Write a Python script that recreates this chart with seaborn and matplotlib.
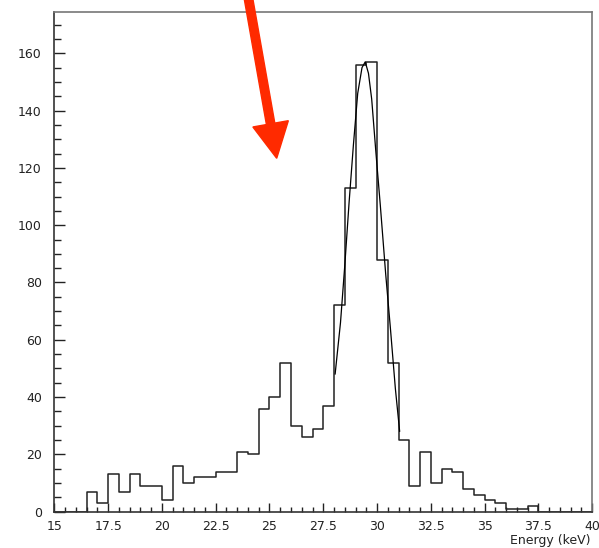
import numpy as np
import pandas as pd
import matplotlib
matplotlib.use("Agg")
import matplotlib.pyplot as plt
import seaborn as sns
from matplotlib.patches import FancyArrow
from matplotlib.ticker import MultipleLocator

# histogram: 0.5 keV bins starting at 15 keV
bin_start = 15.0
bin_width = 0.5
counts = [0, 0, 0, 7, 3, 13, 7, 13, 9, 9,
          4, 16, 10, 12, 12, 14, 14, 21, 20, 36,
          40, 52, 30, 26, 29, 37, 72, 113, 156, 157,
          88, 52, 25, 9, 21, 10, 15, 14, 8, 6,
          4, 3, 1, 1, 2, 0, 0, 0, 0, 0]

# fitted peak, points
fit_x = [28.05, 28.30, 28.50, 28.70, 28.90, 29.10, 29.30, 29.45,
         29.60, 29.75, 29.95, 30.15, 30.40, 30.62, 30.85, 31.05]
fit_y = [48, 66, 86, 108, 128, 146, 155, 157,
         153, 144, 125, 107, 83, 64, 43, 28]

x_ticks = [15, 17.5, 20, 22.5, 25, 27.5, 30, 32.5, 35, 37.5, 40]
x_tick_labels = ["15", "17.5", "20", "22.5", "25", "27.5", "30", "32.5", "35", "37.5", "40"]
y_ticks = [0, 20, 40, 60, 80, 100, 120, 140, 160]
x_label = "Energy (keV)"

sns.set_style("white")
plt.rcParams["font.family"] = ["DejaVu Sans"]

fig = plt.figure(figsize=(5.99, 5.48), dpi=100)
ax = fig.add_axes([0.0907, 0.0662, 0.898, 0.9124])

centers = bin_start + bin_width * (np.arange(len(counts)) + 0.5)
hist_df = pd.DataFrame({"energy": centers, "counts": counts})
sns.histplot(data=hist_df, x="energy", weights="counts", binwidth=bin_width,
             binrange=(bin_start, bin_start + bin_width * len(counts)), element="step",
             fill=False, color="#222222", linewidth=1.1, ax=ax)
sns.lineplot(x=fit_x, y=fit_y, color="black", linewidth=0.9, ax=ax)

ax.set_xlim(15, 40)
ax.set_ylim(0, 174.5)
ax.set_xlabel("")
ax.set_ylabel("")
ax.set_xticks(x_ticks)
ax.set_xticklabels(x_tick_labels)
ax.set_yticks(y_ticks)
ax.xaxis.set_minor_locator(MultipleLocator(0.5))
ax.yaxis.set_minor_locator(MultipleLocator(5))
ax.tick_params(axis="x", which="major", direction="in", length=6.5, width=1, color="#222222",
               labelsize=9, pad=6, top=False, bottom=True, labelcolor="#222222")
ax.tick_params(axis="x", which="minor", direction="in", length=3.6, width=1, color="#222222",
               top=False, bottom=True)
ax.tick_params(axis="y", which="major", direction="in", length=8, width=1, color="#222222",
               labelsize=9, pad=9, right=False, left=True, labelcolor="#222222")
ax.tick_params(axis="y", which="minor", direction="in", length=4.8, width=1, color="#222222",
               right=False, left=True)
for side in ["top", "right"]:
    ax.spines[side].set_color("#777777")
    ax.spines[side].set_linewidth(1.2)
for side in ["left", "bottom"]:
    ax.spines[side].set_color("#333333")
    ax.spines[side].set_linewidth(1.2)

fig.text(0.985, 0.013, x_label, ha="right", va="center", fontsize=9, color="#222222")

# red arrow pointing at the spectrum (inches, isotropic)
arrow = FancyArrow(2.475, 5.55, 0.292, -1.653, width=0.085, head_width=0.36,
                   head_length=0.35, length_includes_head=True,
                   color="#ff2a00", transform=fig.dpi_scale_trans)
fig.add_artist(arrow)

fig.savefig("out.png", dpi=100)
